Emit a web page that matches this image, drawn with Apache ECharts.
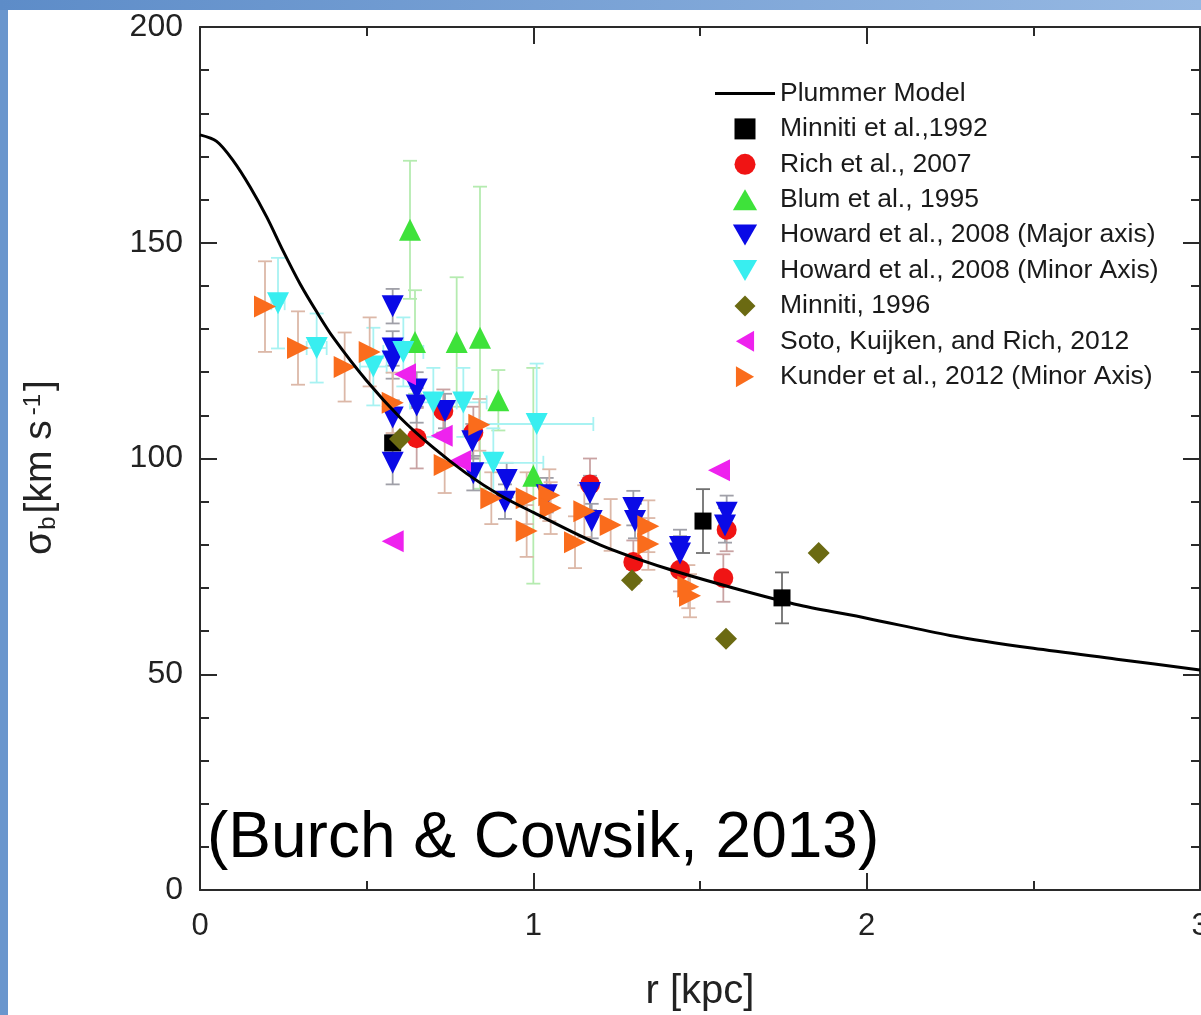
<!DOCTYPE html>
<html>
<head>
<meta charset="utf-8">
<script src="https://cdn.jsdelivr.net/npm/echarts@6/dist/echarts.min.js"></script>
<style>
html,body{margin:0;padding:0;background:#fff;overflow:hidden;width:1201px;height:1015px;}
#chart{width:1201px;height:1015px;}
</style>
</head>
<body>
<div id="chart"></div>
<script>
// ---- Data ----
// Plummer model curve: r [kpc], sigma_b [km/s]
const plummerR     = [0, 0.05, 0.1, 0.15, 0.2, 0.25, 0.3, 0.35, 0.4, 0.5, 0.6, 0.7, 0.8, 0.9, 1.0, 1.2, 1.4, 1.6, 1.8, 2.0, 2.25, 2.5, 2.75, 3.0];
const plummerSigma = [175, 173.5, 169, 163, 156, 148, 140.5, 134, 128, 118, 109.5, 102.5, 96.5, 91.5, 87.5, 80, 74.5, 70, 66, 63, 59, 56, 53.5, 51];

// [r, sigma, sigmaErr, rErr]
const minniti1992 = [[0.578, 103.6, 0, 0], [1.509, 85.5, 7.4, 0], [1.746, 67.7, 5.9, 0]];
const rich2007 = [[0.65, 104.7, 7, 0], [0.73, 111, 5, 0], [0.82, 106, 6, 0], [1.17, 94, 6, 0], [1.30, 76, 5, 0], [1.44, 74.2, 5, 0], [1.57, 72.3, 5.5, 0], [1.58, 83.5, 5, 0]];
const blum1995 = [[0.63, 153, 16, 0], [0.645, 127, 12, 0], [0.77, 127, 15, 0], [0.84, 128, 35, 0], [0.895, 113.5, 7, 0], [1.0, 96, 25, 0]];
const howardMajor = [[0.578, 135.3, 4, 0], [0.578, 125.5, 4, 0], [0.578, 122.5, 4, 0], [0.578, 109.5, 4, 0], [0.578, 99, 5, 0], [0.65, 116, 4, 0], [0.65, 112.3, 4, 0], [0.735, 111, 4, 0], [0.817, 104, 4, 0], [0.82, 96.6, 4, 0], [0.92, 95, 4, 0], [0.915, 90, 4, 0], [1.04, 91.5, 4, 0], [1.17, 92, 4, 0], [1.175, 85.5, 4, 0], [1.30, 88.5, 4, 0], [1.305, 85.5, 4, 0], [1.44, 79.5, 4, 0], [1.44, 78, 4, 0], [1.58, 87.4, 4, 0], [1.575, 84.5, 4, 0]];
const howardMinor = [[0.234, 136, 10.5, 0.02], [0.35, 125.6, 8, 0.03], [0.52, 121.3, 9, 0.04], [0.61, 124.7, 8, 0.06], [0.70, 113, 8, 0.07], [0.79, 113, 8, 0.07], [0.88, 99, 8, 0.15], [1.01, 108, 14, 0.17]];
const minniti1996 = [[0.6, 104.5, 0, 0], [1.296, 71.8, 0, 0], [1.578, 58.2, 0, 0], [1.856, 78.1, 0, 0]];
const soto2012 = [[0.578, 80.8, 0, 0], [0.615, 119.5, 0, 0], [0.725, 105.3, 0, 0], [0.78, 99.4, 0, 0], [1.557, 97.3, 0, 0]];
const kunder2012 = [[0.195, 135.2, 10.5, 0], [0.294, 125.6, 8.5, 0], [0.434, 121.2, 8, 0], [0.509, 124.7, 8, 0], [0.578, 112.9, 7, 0], [0.734, 98.5, 6.5, 0], [0.838, 107.8, 6, 0], [0.874, 90.8, 6, 0], [0.98, 90.8, 6, 0], [0.98, 83.2, 6, 0], [1.048, 91.5, 6, 0], [1.052, 88.5, 6, 0], [1.125, 80.6, 6, 0], [1.153, 87.8, 6, 0], [1.232, 84.6, 6, 0], [1.345, 84.3, 6, 0], [1.345, 80.2, 6, 0], [1.465, 70.3, 5, 0], [1.47, 68.2, 5, 0]];

const xTicks = [0, 1, 2, 3];
const yTicks = [0, 50, 100, 150, 200];

// legend icon shapes (unit paths, aspect kept)
const ICON = {
  square: 'path://M0,0L10,0L10,10L0,10Z',
  circle: 'circle',
  up: 'path://M5,0L10,8.66L0,8.66Z',
  down: 'path://M0,0L10,0L5,8.66Z',
  left: 'path://M0,5L8.66,0L8.66,10Z',
  right: 'path://M0,0L8.66,5L0,10Z',
  diamond: 'path://M5,0L10,5L5,10L0,5Z',
  line: 'path://M0,0L60,0L60,3L0,3Z'
};

// ---- Series descriptions ----
const groups = [
  {name: 'Minniti et al.,1992', data: minniti1992, symbol: 'rect', rot: 0, size: 17, color: '#000000', err: '#707070', icon: ICON.square},
  {name: 'Rich et al., 2007', data: rich2007, symbol: 'circle', rot: 0, size: 20, color: '#f01414', err: '#c9a3a3', icon: ICON.circle},
  {name: 'Blum et al., 1995', data: blum1995, symbol: 'triangle', rot: 0, size: 22, color: '#3ee23a', err: '#b5ebb0', icon: ICON.up},
  {name: 'Howard et al., 2008 (Major axis)', data: howardMajor, symbol: 'triangle', rot: 180, size: 22, color: '#0a0ae6', err: '#a0a0a8', icon: ICON.down},
  {name: 'Howard et al., 2008 (Minor Axis)', data: howardMinor, symbol: 'triangle', rot: 180, size: 22, color: '#38eef0', err: '#a8f2f2', icon: ICON.down},
  {name: 'Minniti, 1996', data: minniti1996, symbol: 'diamond', rot: 0, size: 22, color: '#6b6a12', err: '#999', icon: ICON.diamond},
  {name: 'Soto, Kuijken, and Rich, 2012', data: soto2012, symbol: 'triangle', rot: 90, size: 22, color: '#ee22ee', err: '#e0a0e0', icon: ICON.left},
  {name: 'Kunder et al., 2012 (Minor Axis)', data: kunder2012, symbol: 'triangle', rot: -90, size: 22, color: '#fa6c1c', err: '#dcb8a8', icon: ICON.right}
];

function errRender(color) {
  return function (params, api) {
    const x = api.value(0), y = api.value(1), ey = api.value(2), ex = api.value(3);
    const cap = 7;
    const st = {stroke: color, lineWidth: 1.8};
    const ch = [];
    if (ey > 0) {
      const a = api.coord([x, y + ey]), b = api.coord([x, y - ey]);
      ch.push({type: 'line', shape: {x1: a[0], y1: a[1], x2: b[0], y2: b[1]}, style: st});
      ch.push({type: 'line', shape: {x1: a[0] - cap, y1: a[1], x2: a[0] + cap, y2: a[1]}, style: st});
      ch.push({type: 'line', shape: {x1: b[0] - cap, y1: b[1], x2: b[0] + cap, y2: b[1]}, style: st});
    }
    if (ex > 0) {
      const a = api.coord([x - ex, y]), b = api.coord([x + ex, y]);
      ch.push({type: 'line', shape: {x1: a[0], y1: a[1], x2: b[0], y2: b[1]}, style: st});
      ch.push({type: 'line', shape: {x1: a[0], y1: a[1] - cap, x2: a[0], y2: a[1] + cap}, style: st});
      ch.push({type: 'line', shape: {x1: b[0], y1: b[1] - cap, x2: b[0], y2: b[1] + cap}, style: st});
    }
    return {type: 'group', children: ch};
  };
}

const series = [];
groups.forEach(function (g) {
  series.push({
    type: 'custom', name: g.name + ' err', data: g.data, z: 1,
    renderItem: errRender(g.err), silent: true,
    encode: {x: 0, y: 1}
  });
});
groups.forEach(function (g) {
  series.push({
    type: 'scatter', name: g.name, data: g.data.map(function (d) { return [d[0], d[1]]; }),
    symbol: g.symbol, symbolRotate: g.rot, symbolSize: g.size, z: 3,
    itemStyle: {color: g.color, opacity: 1}
  });
});
series.push({
  type: 'line', name: 'Plummer Model', z: 5, smooth: 0.3, symbol: 'none', showSymbol: false,
  data: plummerR.map(function (r, i) { return [r, plummerSigma[i]]; }),
  lineStyle: {color: '#000', width: 3}, itemStyle: {color: '#000'}
});

const legendData = [{name: 'Plummer Model', icon: ICON.line, symbolRotate: 0, itemStyle: {color: '#000', borderWidth: 0}}]
  .concat(groups.map(function (g) {
    return {name: g.name, icon: g.icon, symbolRotate: 0, itemStyle: {color: g.color}};
  }));

const axisColor = '#2a2a2a';
const chart = echarts.init(document.getElementById('chart'), null, {renderer: 'canvas', width: 1201, height: 1015});
chart.setOption({
  animation: false,
  backgroundColor: '#ffffff',
  grid: {left: 200, right: 1, top: 27, bottom: 125, containLabel: false, outerBoundsMode: 'none'},
  xAxis: [{
    type: 'value', min: xTicks[0], max: xTicks[xTicks.length - 1], interval: 1,
    axisLine: {show: true, onZero: false, lineStyle: {color: axisColor, width: 2}},
    axisTick: {show: true, inside: true, length: 17, lineStyle: {color: axisColor, width: 2}},
    minorTick: {show: true, splitNumber: 2, length: 9, lineStyle: {color: axisColor, width: 2}},
    splitLine: {show: false},
    axisLabel: {fontSize: 31, color: '#222', margin: 21, hideOverlap: false, fontFamily: '"Liberation Sans Narrow", "Arial Narrow", "Liberation Sans", Arial'},
    name: 'r [kpc]', nameLocation: 'middle', nameGap: 82,
    nameTextStyle: {fontSize: 40, color: '#222', fontFamily: '"Liberation Sans Narrow", "Arial Narrow", "Liberation Sans", Arial'}
  }, {
    type: 'value', position: 'top', min: 0, max: 3, interval: 1,
    axisLine: {show: true, onZero: false, lineStyle: {color: axisColor, width: 2}},
    axisTick: {show: true, inside: true, length: 17, lineStyle: {color: axisColor, width: 2}},
    minorTick: {show: true, splitNumber: 2, length: 9, lineStyle: {color: axisColor, width: 2}},
    splitLine: {show: false}, axisLabel: {show: false}
  }],
  yAxis: [{
    type: 'value', min: yTicks[0], max: yTicks[yTicks.length - 1], interval: 50,
    axisLine: {show: true, onZero: false, lineStyle: {color: axisColor, width: 2}},
    axisTick: {show: true, inside: true, length: 17, lineStyle: {color: axisColor, width: 2}},
    minorTick: {show: true, splitNumber: 5, length: 9, lineStyle: {color: axisColor, width: 2}},
    splitLine: {show: false},
    axisLabel: {fontSize: 32, color: '#222', margin: 17, fontFamily: '"Liberation Sans", Arial'},
    name: '{s|σ}{sub|b}{s|[km s}{sup|-1}{s|]}', nameLocation: 'middle', nameGap: 140, nameRotate: 90,
    nameTextStyle: {
      fontFamily: '"Liberation Sans", Arial', color: '#222', padding: [0, 18, 0, 0],
      rich: {
        s: {fontSize: 39, color: '#222', fontFamily: '"Liberation Sans", Arial'},
        sub: {fontSize: 24, color: '#222', verticalAlign: 'bottom', padding: [15, 3, 0, 1], fontFamily: '"Liberation Sans", Arial'},
        sup: {fontSize: 24, color: '#222', verticalAlign: 'top', padding: [0, 3, 15, 5], fontFamily: '"Liberation Sans", Arial'}
      }
    }
  }, {
    type: 'value', position: 'right', min: 0, max: 200, interval: 50,
    axisLine: {show: true, onZero: false, lineStyle: {color: axisColor, width: 2}},
    axisTick: {show: true, inside: true, length: 17, lineStyle: {color: axisColor, width: 2}},
    minorTick: {show: true, splitNumber: 5, length: 9, lineStyle: {color: axisColor, width: 2}},
    splitLine: {show: false}, axisLabel: {show: false}
  }],
  legend: {
    orient: 'vertical', left: 710, top: 75, itemWidth: 60, itemHeight: 21, itemGap: 8.4,
    symbolKeepAspect: true,
    textStyle: {fontSize: 26.5, lineHeight: 25, color: '#1a1a1a', fontFamily: '"Liberation Sans", Arial'},
    data: legendData
  },
  graphic: [
    {type: 'rect', left: 0, top: 0, shape: {width: 8, height: 1015}, style: {fill: '#6a96cd'}, z: 100},
    {type: 'rect', left: 0, top: 0, shape: {width: 1201, height: 10}, z: 100,
     style: {fill: new echarts.graphic.LinearGradient(0, 0, 1, 0, [{offset: 0, color: '#5d8cc8'}, {offset: 1, color: '#97b9e3'}])}},
    {type: 'text', left: 207, top: 807, z: 50,
     style: {text: '(Burch & Cowsik, 2013)', font: '64px "Liberation Sans", Arial', fill: '#000'}}
  ],
  series: series
});
</script>
</body>
</html>
